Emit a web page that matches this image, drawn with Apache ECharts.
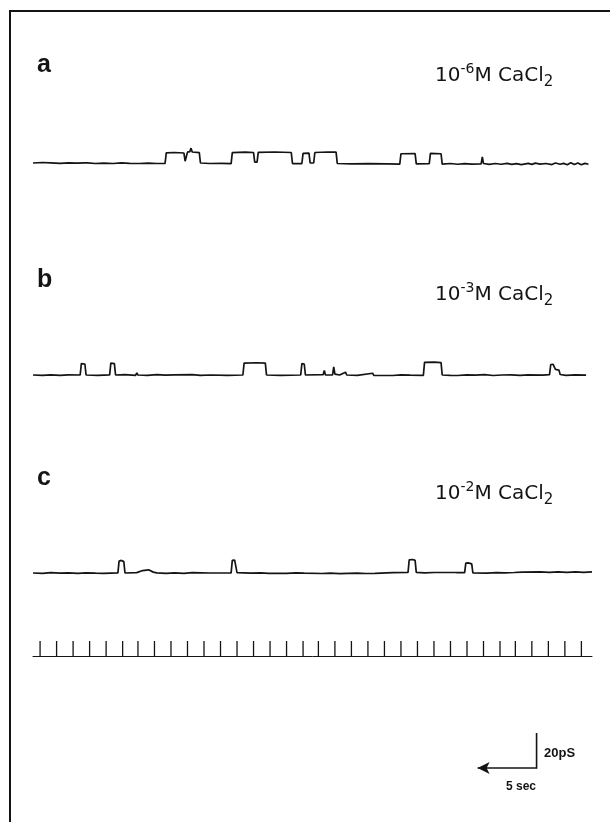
<!DOCTYPE html>
<html>
<head>
<meta charset="utf-8">
<script src="https://cdn.jsdelivr.net/npm/echarts@6/dist/echarts.min.js"></script>
<style>
  html, body { margin: 0; padding: 0; background: #fff; }
  #chart { width: 610px; height: 822px; }
</style>
</head>
<body>
<div id="chart"></div>
<script>
// single channel records, time in sec, conductance in pS above closed level
var traceA = [
  [0, 0], [0.8, 0.3], [1.5, 0.1], [2.3, -0.2], [3, 0.1], [3.7, -0.1], [4.4, 0.1], [4.5, 0.9], [4.6, 0.1], [5.3, -0.3], [6, -0.1],
  [6.8, -0.3], [7.5, 0.1], [8.2, -0.2], [9, -0.3], [9.8, -0.1], [10.5, -0.3], [11.2, -0.2],
  [11.3, 5.8], [12, 6], [12.8, 5.7], [12.9, 1], [13.0, 1], [13.1, 6.2], [13.3, 6.5], [13.4, 8.5], [13.5, 6.3], [14.1, 5.9], [14.2, 0],
  [15, -0.3], [16, -0.2], [16.8, -0.4], [16.9, 5.9], [18, 6.2], [18.7, 6], [18.8, 0.5], [19.0, 0.5], [19.1, 6.1], [20.5, 6.3], [21.9, 6],
  [22.0, -0.3], [22.8, -0.3], [22.9, 5.5], [23.4, 5.6], [23.5, 0], [23.8, 0], [23.9, 6], [25, 6.3], [25.7, 6.2], [25.8, -0.3],
  [27, -0.5], [28.5, -0.4], [30, -0.5], [31.1, -0.6], [31.2, 5.3], [32.4, 5.4], [32.5, -0.5], [33.6, -0.4], [33.7, 5.5], [34.6, 5.3],
  [34.7, -0.6], [35.4, -0.3], [36, -0.7], [36.6, -0.4], [37.2, -0.6], [38.0, -0.5], [38.1, 3.5], [38.2, -0.3], [38.7, -0.8],
  [39.2, -0.3], [39.7, -0.7], [40.2, -0.2], [40.6, -0.8], [41, -0.4], [41.4, -0.9],
  [42, -0.2], [42.3, -0.8], [42.6, -0.1], [43, -0.6], [43.5, -0.3], [44, -0.9], [44.3, 0], [44.7, -0.7], [45, -0.2], [45.3, -1],
  [45.6, 0.1], [45.9, -0.9], [46.2, 0], [46.5, -1], [46.8, -0.2], [47.1, -0.7]
];
var traceB = [
  [0, 0], [0.8, -0.2], [1.5, 0.1], [2.3, -0.2], [3, 0.1], [4.0, 0], [4.1, 6.5], [4.4, 6.3], [4.5, 0], [5.5, -0.2], [6.5, 0.1],
  [6.6, 6.8], [6.9, 6.5], [7.0, 0], [7.8, 0.2], [8.7, -0.2], [8.8, 1.2], [8.9, 0], [9.7, -0.2], [10.5, 0.2], [11.2, -0.1], [12, 0.1],
  [13.5, 0.2], [14.2, -0.2], [15, 0], [16.5, -0.2], [17.8, 0],
  [17.9, 6.8], [19, 7], [19.7, 6.8], [19.8, 0], [21, -0.2], [22.7, 0], [22.8, 6.5], [23.0, 6.3], [23.1, 0],
  [24.6, 0.2], [24.7, 2.6], [24.8, 0], [25.4, 0], [25.5, 4.6], [25.6, 0.5], [26.0, 0], [26.5, 1.6], [26.6, 0],
  [27.5, -0.2], [28.8, 1], [28.9, -0.2], [30.5, -0.3], [31.2, 0.1], [32, -0.1], [33.1, -0.2],
  [33.2, 7.2], [34, 7.4], [34.6, 7.1], [34.7, 0], [35.4, -0.2], [36, -0.3], [36.8, 0.1], [37.5, -0.1], [38.3, 0.2], [39, -0.3],
  [39.8, 0], [40.5, 0.1], [41.3, -0.2], [42, 0.1], [43.2, -0.1], [43.8, 0.2],
  [43.9, 6], [44.1, 6.1], [44.3, 3.2], [44.6, 2.8], [44.7, 0.3], [45.2, -0.2], [46, 0.1], [46.9, -0.1]
];
var traceC = [
  [0, 0], [0.8, -0.2], [1.5, 0.2], [2.3, -0.1], [3, 0.1], [3.8, -0.2], [4.5, 0.1], [5.3, -0.1], [6, -0.2], [7.2, 0.1],
  [7.3, 6.8], [7.5, 7.2], [7.7, 6.5], [7.8, 0],
  [8.8, 0.2], [9.3, 1.4], [9.8, 1.8], [10.2, 0.5], [10.5, 0.1], [11.3, -0.2], [12, 0.1], [12.8, -0.2], [13.5, 0.2], [15, 0], [16.8, 0.1],
  [16.9, 7.2], [17.1, 7.4], [17.3, 0.2], [18.5, -0.1], [19.3, 0.1], [20, -0.2], [21.5, -0.2], [22.3, 0.1], [23, -0.1], [24.5, -0.3],
  [25.2, -0.1], [26, -0.4], [27.5, -0.1], [28.2, -0.3], [29, -0.2], [30.5, 0.2], [31.8, 0.3],
  [31.9, 7.5], [32.2, 7.7], [32.4, 7.2], [32.5, 0.4],
  [33.2, 0.1], [34, 0.3], [35.8, 0.3], [35.9, 1.4], [36.0, 0.2], [36.6, 0.2], [36.7, 5.6], [36.9, 5.8], [37.2, 5.2], [37.3, 0],
  [38.5, -0.1], [39.3, 0.2], [40, 0.1], [40.8, 0.3], [41.5, 0.5], [43, 0.6], [43.8, 0.4], [44.5, 0.6], [45.3, 0.4], [46, 0.6],
  [46.7, 0.4], [47.4, 0.6]
];
var markerTimes = [0.6, 2.0, 3.4, 4.8, 6.2, 7.6, 8.9, 10.3, 11.7, 13.1, 14.5, 15.9, 17.3, 18.7, 20.1, 21.5, 22.9,
  24.2, 25.6, 27.0, 28.4, 29.8, 31.2, 32.6, 34.0, 35.4, 36.8, 38.2, 39.6, 40.9, 42.3, 43.7, 45.1, 46.5];
var panelLabels = ['a', 'b', 'c'];
var concExponents = ['-6', '-3', '-2'];
var scaleTime = 5;   // sec
var scaleCond = 20;  // pS

var chart = echarts.init(document.getElementById('chart'));

var tMax = 47.4;
var baselines = [163, 375, 573];   // pixel y of closed level
var pxPerPS = 1.75;
var scaleAt = 42.7;                 // sec, where the scale bar stands
var ink = '#141414';

var grids = [];
var xAxes = [];
var yAxes = [];
var series = [];

function addGrid(top, height, ymin, ymax) {
  var i = grids.length;
  grids.push({ left: 33, right: 18, top: top, height: height });
  xAxes.push({ gridIndex: i, type: 'value', min: 0, max: tMax, show: false });
  yAxes.push({ gridIndex: i, type: 'value', min: ymin, max: ymax, show: false });
  return i;
}

[traceA, traceB, traceC].forEach(function (tr, k) {
  var g = addGrid(baselines[k] - 16 * pxPerPS, 20 * pxPerPS, -4, 16);
  series.push({
    type: 'line', xAxisIndex: g, yAxisIndex: g, data: tr, showSymbol: false,
    lineStyle: { color: ink, width: 1.7 }, animation: false
  });
});

// time marker row
var gm = addGrid(641, 15, 0, 1);
xAxes[gm] = {
  gridIndex: gm, type: 'value', min: 0, max: tMax, show: true,
  axisLine: { show: true, onZero: false, lineStyle: { color: ink, width: 1 } },
  axisTick: { show: false }, axisLabel: { show: false }, splitLine: { show: false }
};
series.push({
  type: 'bar', xAxisIndex: gm, yAxisIndex: gm, barWidth: 1.3,
  data: markerTimes.map(function (t) { return [t, 1]; }),
  itemStyle: { color: ink }, animation: false
});

// scale bar
var gs = addGrid(733, scaleCond * pxPerPS, 0, scaleCond);
series.push({
  type: 'line', xAxisIndex: gs, yAxisIndex: gs, showSymbol: false,
  data: [[scaleAt, -1], [scaleAt, scaleCond]],
  lineStyle: { color: ink, width: 1.6 }, animation: false,
  markLine: {
    silent: true, animation: false,
    symbol: ['none', 'arrow'], symbolSize: [9, 12],
    label: { show: false },
    lineStyle: { color: ink, width: 1.6, type: 'solid' },
    data: [[{ coord: [scaleAt, 0] }, { coord: [scaleAt - scaleTime, 0] }]]
  }
});

var graphic = [
  { type: 'line', shape: { x1: 9, y1: 11, x2: 610, y2: 11 }, style: { stroke: ink, lineWidth: 2 } },
  { type: 'line', shape: { x1: 10, y1: 10, x2: 10, y2: 822 }, style: { stroke: ink, lineWidth: 2 } },
  {
    type: 'text', x: 544, y: 753,
    style: { text: scaleCond + 'pS', font: 'bold 13px "Liberation Sans", Arial, sans-serif', fill: ink, verticalAlign: 'middle' }
  },
  {
    type: 'text', x: 506, y: 787,
    style: { text: scaleTime + ' sec', font: 'bold 12px "Liberation Sans", Arial, sans-serif', fill: ink, verticalAlign: 'middle' }
  }
];
var labelY = [65, 280, 478];
var concY = [76, 295, 494];
panelLabels.forEach(function (lab, k) {
  graphic.push({
    type: 'text', x: 37, y: labelY[k],
    style: { text: lab, font: 'bold 25px "Liberation Sans", Arial, sans-serif', fill: ink, verticalAlign: 'middle' }
  });
  graphic.push({
    type: 'text', x: 435, y: concY[k],
    style: {
      text: '{n|10}{s|' + concExponents[k] + '}{n|M CaCl}{d|2}',
      verticalAlign: 'middle', fill: ink,
      rich: {
        n: { fontSize: 20, fontFamily: 'DejaVu Sans', lineHeight: 28, fill: ink },
        s: { fontSize: 14, fontFamily: 'DejaVu Sans', lineHeight: 14, verticalAlign: 'top', fill: ink },
        d: { fontSize: 15, fontFamily: 'DejaVu Sans', lineHeight: 15, verticalAlign: 'bottom', fill: ink }
      }
    }
  });
});

chart.setOption({
  backgroundColor: '#fff',
  animation: false,
  grid: grids,
  xAxis: xAxes,
  yAxis: yAxes,
  series: series,
  graphic: graphic
});
</script>
</body>
</html>
